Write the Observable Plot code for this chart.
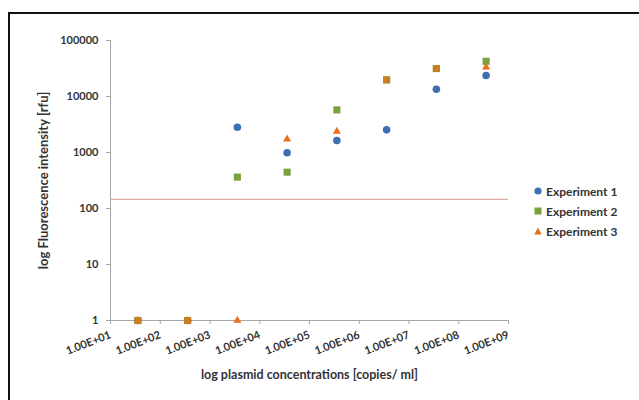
<!DOCTYPE html>
<html>
<head>
<meta charset="utf-8">
<script src="https://cdn.jsdelivr.net/npm/d3@7"></script>
<script src="https://cdn.jsdelivr.net/npm/@observablehq/plot@0.6"></script>
<style>
  html, body { margin: 0; padding: 0; background: white; }
  #wrap { position: relative; width: 639px; height: 400px; overflow: hidden; font-family: Lato, "Open Sans", sans-serif; }
  #border { position: absolute; left: 8px; top: 12px; width: 700px; height: 500px; border-top: 2px solid #111; border-left: 2px solid #111; pointer-events: none; }
  #legend { position: absolute; left: 534px; top: 181px; font-weight: bold; font-size: 12px; color: #333; }
  #legend .item { display: flex; align-items: center; height: 20px; }
  #legend svg { margin-right: 4px; }
  g[aria-label="x-axis label"] text { font-size: 12.5px; }
  g[aria-label="y-axis label"] text { font-size: 13px; }
</style>
</head>
<body>
<div id="wrap">
  <div id="chart"></div>
  <div id="legend"></div>
  <div id="border"></div>
</div>
<script>
// concentration position (log10 copies/ml) for each measured dilution
const concentrationLog = [1.55, 2.55, 3.55, 4.55, 5.55, 6.55, 7.55, 8.55];
const experiment1 = [1, 1, 2820, 990, 1640, 2540, 13500, 23700];
const experiment2 = [1, 1, 363, 445, 5770, 19800, 31600, 42600];
const experiment3 = [1, 1, 1, 1730, 2370, 19800, 31600, 33300];
const threshold = [145];
const seriesNames = ["Experiment 1", "Experiment 2", "Experiment 3"];
const xTicks = [1, 2, 3, 4, 5, 6, 7, 8, 9];
const xTickLabels = ["1.00E+01", "1.00E+02", "1.00E+03", "1.00E+04", "1.00E+05", "1.00E+06", "1.00E+07", "1.00E+08", "1.00E+09"];
const yTicks = [1, 10, 100, 1000, 10000, 100000];
const yTickLabels = ["1", "10", "100", "1000", "10000", "100000"];

const colors = { blue: "#3f6fb0", green: "#78a23c", orange: "#e8711a" };

const d1 = concentrationLog.map((x, i) => ({ x, y: experiment1[i] }));
const d2 = concentrationLog.map((x, i) => ({ x, y: experiment2[i] }));
const d3only = concentrationLog.map((x, i) => ({ x, y: experiment3[i], same: experiment3[i] === experiment2[i] }));

const chart = Plot.plot({
  width: 639,
  height: 400,
  marginLeft: 110,
  marginRight: 131,
  marginTop: 40,
  marginBottom: 80,
  style: { fontFamily: "Lato, 'Open Sans', sans-serif", fontSize: "11px", fontWeight: "bold", color: "#333", background: "white", overflow: "visible" },
  x: { domain: [1, 9] },
  y: { type: "log", domain: [1, 100000] },
  marks: [
    Plot.ruleX([1], { stroke: "#a6a6a6" }),
    Plot.ruleY([1], { stroke: "#a6a6a6" }),
    Plot.ruleY(threshold, { stroke: "#dcaaa6", strokeWidth: 1.3 }),
    Plot.axisY({
      ticks: yTicks,
      tickFormat: d => yTickLabels[yTicks.indexOf(d)],
      tickSize: 4, tickPadding: 8, stroke: "#a6a6a6",
      label: "log Fluorescence intensity [rfu]", labelAnchor: "center", labelArrow: "none", labelOffset: 72
    }),
    Plot.axisX({
      ticks: xTicks,
      tickFormat: d => xTickLabels[xTicks.indexOf(d)],
      tickSize: 4, tickPadding: 10, tickRotate: -21, stroke: "#a6a6a6",
      label: "log plasmid concentrations [copies/ ml]", labelAnchor: "center", labelArrow: "none", labelOffset: 58
    }),
    Plot.dot(d1, { x: "x", y: "y", r: 3.8, fill: colors.blue, symbol: "circle" }),
    Plot.dot(d2, { x: "x", y: "y", r: 4, fill: colors.green, symbol: "square" }),
    Plot.dot(d3only.filter(d => !d.same), { x: "x", y: "y", r: 3, fill: colors.orange, symbol: "triangle" }),
    Plot.dot(d3only.filter(d => d.same), { x: "x", y: "y", r: 4, fill: colors.orange, fillOpacity: 0.72, symbol: "square" })
  ]
});
document.getElementById("chart").appendChild(chart);

const legendSymbols = [
  `<svg width="8" height="8"><circle cx="4" cy="4" r="3.6" fill="${colors.blue}"/></svg>`,
  `<svg width="8" height="8"><rect x="0.5" y="0.5" width="7" height="7" fill="${colors.green}"/></svg>`,
  `<svg width="8" height="8"><path d="M4,0.5L7.8,7.5H0.2Z" fill="${colors.orange}"/></svg>`
];
document.getElementById("legend").innerHTML = seriesNames.map((n, i) =>
  `<div class="item">${legendSymbols[i]}<span>${n}</span></div>`).join("");
</script>
</body>
</html>
